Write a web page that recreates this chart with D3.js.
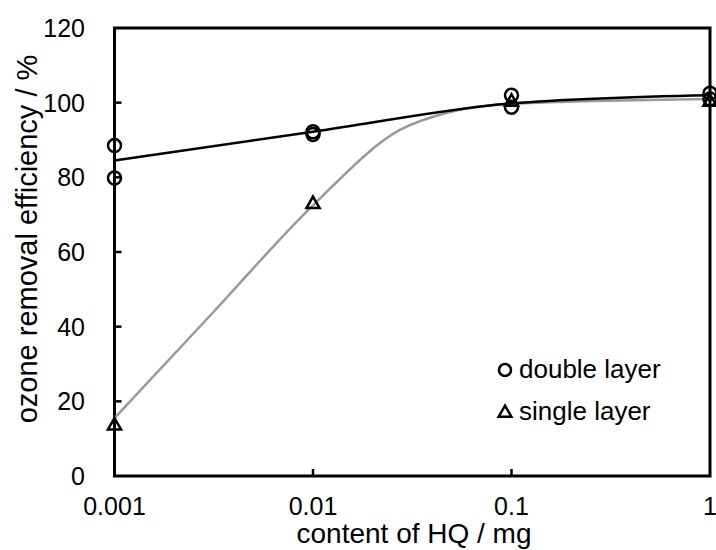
<!DOCTYPE html>
<html>
<head>
<meta charset="utf-8">
<script src="https://cdn.jsdelivr.net/npm/d3@7"></script>
<style>
  body { margin: 0; background: #fff; }
  svg { display: block; font-family: "Liberation Sans", Arial, sans-serif; }
</style>
</head>
<body>
<svg id="chart" width="716" height="550"></svg>
<script>
// measured points
var doubleX = [0.001, 0.001, 0.01, 0.01, 0.1, 0.1, 1, 1];
var doubleY = [88.5, 79.8, 92.2, 91.5, 102, 98.8, 102.5, 101];
var singleX = [0.001, 0.01, 0.1, 1];
var singleY = [13.5, 72.8, 100.2, 100.2];

// fitted curves
var doubleFitX = [0.001, 0.01, 0.1, 1];
var doubleFitY = [84.5, 92.2, 99.8, 102];
var singleFitX = [0.001, 0.00316, 0.01, 0.0274, 0.049, 0.1, 1];
var singleFitY = [15.5, 44, 72.5, 92.7, 97.5, 99.7, 101];

var xTicks = [0.001, 0.01, 0.1, 1];
var xTickLabels = ["0.001", "0.01", "0.1", "1"];
var yTicks = [0, 20, 40, 60, 80, 100, 120];

var svg = d3.select("#chart");
var plot = { left: 114.5, right: 710, top: 28, bottom: 476 };

var x = d3.scaleLog().domain([0.001, 1]).range([plot.left, plot.right]);
var y = d3.scaleLinear().domain([0, 120]).range([plot.bottom, plot.top]);

// frame
svg.append("rect")
    .attr("x", plot.left).attr("y", plot.top)
    .attr("width", plot.right - plot.left).attr("height", plot.bottom - plot.top)
    .attr("fill", "none").attr("stroke", "#000").attr("stroke-width", 3);

// y ticks (inside)
var yAxis = svg.append("g");
yAxis.selectAll("line").data(yTicks.slice(1, -1)).enter().append("line")
    .attr("x1", plot.left).attr("x2", plot.left + 7)
    .attr("y1", d => y(d)).attr("y2", d => y(d))
    .attr("stroke", "#000").attr("stroke-width", 2.5);
yAxis.selectAll("text").data(yTicks).enter().append("text")
    .attr("x", 85).attr("y", d => y(d) + 9)
    .attr("text-anchor", "end")
    .attr("font-size", 25)
    .text(d => d);

// x ticks (inside)
var xAxis = svg.append("g");
xAxis.selectAll("line").data(xTicks.slice(1, -1)).enter().append("line")
    .attr("x1", d => x(d)).attr("x2", d => x(d))
    .attr("y1", plot.bottom).attr("y2", plot.bottom - 7)
    .attr("stroke", "#000").attr("stroke-width", 2.5);
xAxis.selectAll("text").data(xTicks).enter().append("text")
    .attr("x", d => x(d)).attr("y", 515)
    .attr("text-anchor", "middle")
    .attr("font-size", 25)
    .text((d, i) => xTickLabels[i]);

// axis titles
svg.append("text")
    .attr("x", 414).attr("y", 543)
    .attr("text-anchor", "middle")
    .attr("font-size", 28)
    .text("content of HQ / mg");
svg.append("text")
    .attr("transform", "translate(37,239) rotate(-90)")
    .attr("text-anchor", "middle")
    .attr("font-size", 29)
    .text("ozone removal efficiency / %");

// fit curves
var line = d3.line()
    .x(d => x(d[0]))
    .y(d => y(d[1]))
    .curve(d3.curveMonotoneX);

svg.append("path")
    .datum(d3.zip(singleFitX, singleFitY))
    .attr("d", line)
    .attr("fill", "none").attr("stroke", "#999").attr("stroke-width", 2.5);
svg.append("path")
    .datum(d3.zip(doubleFitX, doubleFitY))
    .attr("d", line)
    .attr("fill", "none").attr("stroke", "#000").attr("stroke-width", 2.5);

// markers
var tri = d3.symbol().type(d3.symbolTriangle).size(75);

svg.append("g").selectAll("circle")
    .data(d3.zip(doubleX, doubleY)).enter().append("circle")
    .attr("cx", d => x(d[0])).attr("cy", d => y(d[1]))
    .attr("r", 6.5)
    .attr("fill", "none").attr("stroke", "#000").attr("stroke-width", 2.5);

svg.append("g").selectAll("path")
    .data(d3.zip(singleX, singleY)).enter().append("path")
    .attr("d", tri)
    .attr("transform", d => "translate(" + x(d[0]) + "," + y(d[1]) + ")")
    .attr("fill", "none").attr("stroke", "#000").attr("stroke-width", 2.5);

// legend
var legend = svg.append("g");
legend.append("circle")
    .attr("cx", 505).attr("cy", 370).attr("r", 6)
    .attr("fill", "none").attr("stroke", "#000").attr("stroke-width", 2.5);
legend.append("text")
    .attr("x", 519).attr("y", 378)
    .attr("font-size", 26)
    .text("double layer");
legend.append("path")
    .attr("d", d3.symbol().type(d3.symbolTriangle).size(70))
    .attr("transform", "translate(505,413)")
    .attr("fill", "none").attr("stroke", "#000").attr("stroke-width", 2.5);
legend.append("text")
    .attr("x", 519).attr("y", 420)
    .attr("font-size", 26)
    .text("single layer");
</script>
</body>
</html>
